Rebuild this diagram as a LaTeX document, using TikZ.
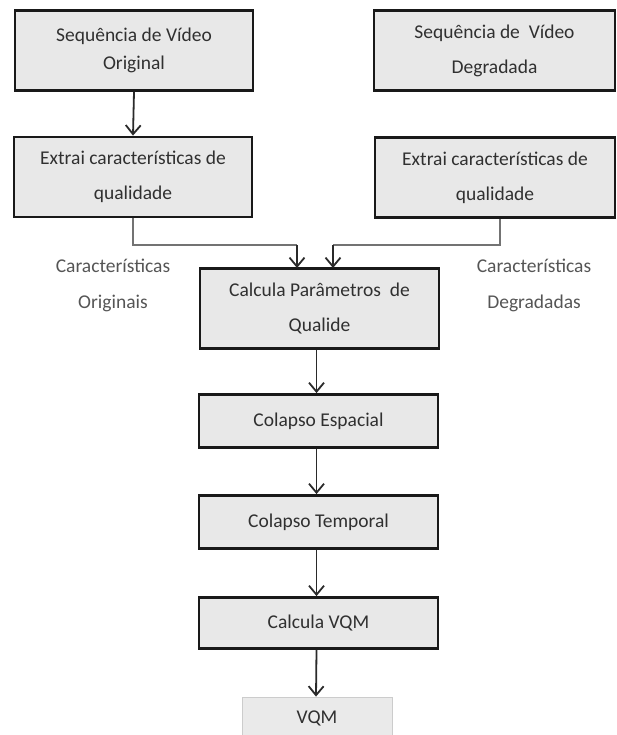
\documentclass[tikz,border=0pt]{standalone}
\usepackage{fontspec}
\setmainfont{Carlito}
\usetikzlibrary{arrows.meta}
\definecolor{boxfill}{HTML}{E8E8E8}
\definecolor{txt}{HTML}{303030}
\definecolor{lbl}{HTML}{555555}
\definecolor{conn}{HTML}{2A2A2A}
\tikzset{
  procbox/.style={draw=black!90, line width=2.8pt, fill=boxfill, rectangle,
    minimum width=238pt, minimum height=80pt, text=txt, align=center,
    inner sep=0pt, font=\fontsize{19.5}{35}\selectfont},
  endbox/.style={draw=black!20, line width=0.8pt, fill=boxfill!92, rectangle,
    minimum width=150pt, minimum height=42pt, text=txt, align=center,
    inner sep=0pt, font=\fontsize{19.5}{35}\selectfont},
  labeltxt/.style={text=lbl, align=center, inner sep=0pt,
    font=\fontsize{19.5}{36}\selectfont},
  conn/.style={draw=conn, line width=1.8pt, -{Straight Barb[length=9pt,width=15pt,line width=1.8pt]}},
  plainline/.style={draw=black!55, line width=1.4pt}
}
\begin{document}
\begin{tikzpicture}[x=1pt,y=-1pt]
\useasboundingbox (0,0) rectangle (617,735);
\node[procbox, font=\fontsize{19.5}{28}\selectfont] (b1) at (134,50.5) {Sequência de Vídeo\\Original};
\node[procbox, minimum width=241pt] (b2) at (494.5,50.5) {Sequência de~ Vídeo\\Degradada};
\node[procbox] (b3) at (133,177) {Extrai características de\\qualidade};
\node[procbox, minimum width=240pt] (b4) at (495,177.5) {Extrai características de\\qualidade};
\node[procbox, minimum width=239pt] (b5) at (319.5,308.5) {Calcula Parâmetros~ de\\Qualide};
\node[procbox, minimum width=239pt, minimum height=53pt] (b6) at (318.5,421) {Colapso Espacial};
\node[procbox, minimum width=239pt, minimum height=53pt] (b7) at (318.5,522) {Colapso Temporal};
\node[procbox, minimum width=239pt, minimum height=51pt] (b8) at (318.5,623) {Calcula VQM};
\node[endbox] (vqm) at (317,718) {VQM};
\node[labeltxt] (lo) at (113,285) {Características\\Originais};
\node[labeltxt] (ld) at (534,285) {Características\\Degradadas};

\coordinate (j1) at (133,245);
\coordinate (j2) at (500,245);
\draw[conn] (b1.south) -- (b3.north);
\draw[plainline] (b3.south) -- (j1) -- (297,245);
\draw[conn] (297,245) -- (297,268);
\draw[plainline] ([xshift=5pt]b4.south) -- (j2) -- (333,245);
\draw[conn] (333,245) -- (333,268);
\draw[conn] ([xshift=-3pt]b5.south) -- ([xshift=-2pt]b6.north);
\draw[conn] ([xshift=-2pt]b6.south) -- ([xshift=-2pt]b7.north);
\draw[conn] ([xshift=-2pt]b7.south) -- ([xshift=-2pt]b8.north);
\draw[conn] ([xshift=-2pt]b8.south) -- ([xshift=-1pt]vqm.north);
\end{tikzpicture}
\end{document}
